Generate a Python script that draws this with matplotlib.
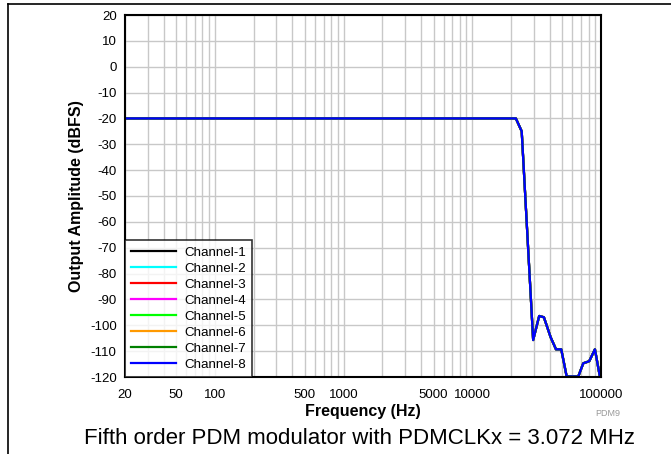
import numpy as np
import matplotlib.pyplot as plt
from matplotlib.lines import Line2D
from matplotlib.ticker import FixedLocator, LogLocator, NullFormatter

plt.rcParams['font.family'] = ['Liberation Sans', 'DejaVu Sans']
plt.rcParams['axes.unicode_minus'] = False

# ----------------------
# Data
# ----------------------
freq_hz = [20, 100, 1000, 10000, 21800, 24200, 29700, 33100, 36000, 40600,
           44700, 49100, 54100, 66600, 72800, 81000, 89700, 98000, 100000]
amp_db = [-20, -20, -20, -20, -20, -25, -105.7, -96.4, -96.9, -104.6,
          -109.3, -109.3, -119.8, -119.8, -114.7, -113.9, -109.3, -119.8, -120]

channels = ["Channel-1", "Channel-2", "Channel-3", "Channel-4",
            "Channel-5", "Channel-6", "Channel-7", "Channel-8"]
colors = ["#000000", "#00ffff", "#ff0000", "#ff00ff",
          "#00ff00", "#ff9900", "#008000", "#0000ff"]

x_ticks = [20, 50, 100, 500, 1000, 5000, 10000, 100000]
y_ticks = list(range(-120, 21, 10))

W, H = 671, 454
fig = plt.figure(figsize=(W / 100, H / 100), dpi=100)
ax = fig.add_axes([125 / W, 1 - 377 / H, 476 / W, 362 / H])

# all channels overlap, channel-8 ends on top
for name, c in zip(channels, colors):
    ax.plot(freq_hz, amp_db, color=c, lw=1.6, label=name)

ax.set_xscale("log")
ax.set_xlim(20, 100000)
ax.set_ylim(-120, 20)
ax.xaxis.set_major_locator(FixedLocator(x_ticks))
ax.xaxis.set_minor_locator(LogLocator(base=10, subs=np.arange(1, 10)))
ax.xaxis.set_minor_formatter(NullFormatter())
ax.set_xticklabels([str(t) for t in x_ticks])
ax.set_yticks(y_ticks)

ax.grid(True, which="both", axis="x", color="#c8c8c8", lw=1)
ax.grid(True, which="major", axis="y", color="#c8c8c8", lw=1)
ax.tick_params(which="both", length=0, labelsize=9.5)
ax.tick_params(axis="y", pad=6)
ax.tick_params(axis="x", pad=9)
for s in ax.spines.values():
    s.set_linewidth(1.5)

ax.set_xlabel("Frequency (Hz)", fontsize=11.5, fontweight="bold", labelpad=2)
ax.set_ylabel("Output Amplitude (dBFS)", fontsize=11.5, fontweight="bold", labelpad=4)

leg = ax.legend(loc="lower left", fontsize=9.6, frameon=True, fancybox=False,
                borderaxespad=0, handlelength=3.4, labelspacing=0.28,
                borderpad=0.45, handletextpad=0.6)
leg.get_frame().set_edgecolor("black")
leg.get_frame().set_linewidth(1.2)

fig.text(360 / W, 1 - 438 / H, "Fifth order PDM modulator with PDMCLKx = 3.072 MHz",
         ha="center", va="center", fontsize=16)
fig.text(608 / W, 1 - 413 / H, "PDM9", ha="center", va="center",
         fontsize=6.5, color="#999999")

# page frame lines
fig.add_artist(Line2D([8 / W, 1], [1 - 4 / H, 1 - 4 / H], color="black", lw=1.2))
fig.add_artist(Line2D([8 / W, 8 / W], [0, 1 - 4 / H], color="black", lw=1.2))

fig.savefig("out.png", dpi=100)
